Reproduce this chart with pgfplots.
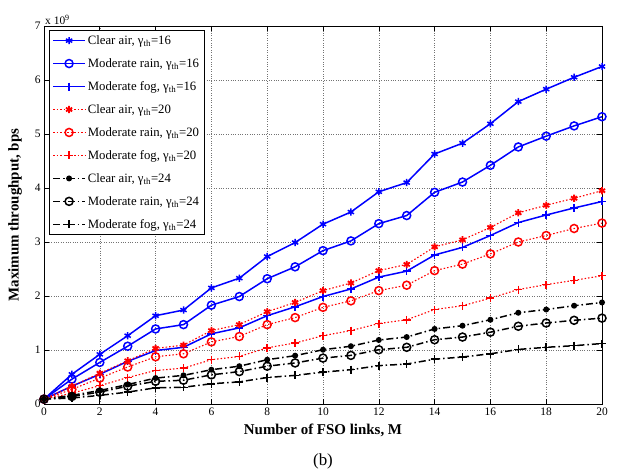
\documentclass[border=0pt]{standalone}
\usepackage{fontspec}
\setmainfont{Liberation Serif}
\usepackage{pgfplots}
\usepackage{pgfplotstable}
\pgfplotsset{compat=1.18}

% throughput in units of 1e9 bps
\pgfplotstableread{
M  bc    br    bf    rc    rr    rf    kc    kr    kf
0  0.09  0.09  0.09  0.09  0.09  0.09  0.09  0.09  0.09
1  0.55  0.46  0.33  0.33  0.27  0.20  0.16  0.14  0.11
2  0.92  0.77  0.55  0.57  0.48  0.34  0.25  0.22  0.16
3  1.265 1.07  0.79  0.80  0.685 0.49  0.36  0.33  0.22
4  1.635 1.39  0.99  1.03  0.875 0.62  0.48  0.42  0.30
5  1.74  1.47  1.05  1.09  0.93  0.665 0.53  0.44  0.31
6  2.15  1.83  1.30  1.36  1.15  0.82  0.635 0.54  0.375
7  2.33  1.99  1.41  1.47  1.25  0.88  0.70  0.60  0.41
8  2.73  2.32  1.635 1.71  1.47  1.04  0.82  0.70  0.49
9  2.99  2.54  1.80  1.88  1.60  1.13  0.895 0.76  0.53
10 3.33  2.84  1.99  2.10  1.79  1.265 1.005 0.85  0.59
11 3.555 3.02  2.13  2.24  1.91  1.36  1.07  0.90  0.635
12 3.93  3.34  2.35  2.47  2.10  1.49  1.185 1.005 0.71
13 4.10  3.49  2.46  2.585 2.20  1.56  1.24  1.05  0.74
14 4.63  3.92  2.76  2.91  2.47  1.75  1.39  1.19  0.83
15 4.83  4.11  2.90  3.04  2.59  1.82  1.45  1.24  0.87
16 5.19  4.42  3.12  3.27  2.78  1.96  1.56  1.33  0.93
17 5.60  4.76  3.36  3.54  3.00  2.12  1.69  1.44  1.01
18 5.83  4.96  3.50  3.68  3.12  2.21  1.75  1.50  1.05
19 6.05  5.15  3.63  3.81  3.25  2.29  1.82  1.55  1.08
20 6.25  5.32  3.75  3.95  3.35  2.375 1.88  1.59  1.12
}\thr

\begin{document}
\begin{tikzpicture}
\useasboundingbox (-44bp,-71bp) rectangle (574bp,404bp);
\begin{axis}[
    scale only axis,
    width=558bp, height=378bp,
    xmin=0, xmax=20, ymin=0, ymax=7,
    xtick={0,2,...,20}, ytick={0,1,...,7},
    tick align=inside,
    major tick length=5bp,
    grid=major,
    major grid style={dotted, black!55, line width=0.5bp},
    axis line style={line width=0.8bp},
    tick style={line width=0.6bp, black},
    /pgf/number format/assume math mode=true,
    tick label style={font=\fontsize{11.5}{12}\selectfont},
    xlabel={Number of FSO links, M},
    ylabel={Maximum throughput, bps},
    every axis x label/.style={at={(axis description cs:0.5,-0.069)}, anchor=center,
        font=\fontsize{15}{16}\selectfont\bfseries},
    every axis y label/.style={at={(axis description cs:-0.052,0.5)}, rotate=90, anchor=center,
        font=\fontsize{15}{16}\selectfont\bfseries},
    legend cell align=left,
    legend style={at={(rel axis cs:0.009,0.989)}, anchor=north west,
        font=\fontsize{12.8}{14}\selectfont, draw=black, line width=0.6bp,
        inner xsep=3bp, inner ysep=3bp, row sep=8.6bp},
    legend image code/.code={\draw[mark repeat=2,mark phase=2] plot coordinates {(0bp,0bp)(16bp,0bp)(32bp,0bp)};},
    every axis plot/.append style={line width=1.5bp},
    clip=false,
  ]
\addplot[blue, mark=asterisk, mark size=3.6bp, mark options={solid}] table[x=M,y=bc]{\thr};
\addplot[blue, mark=o, mark size=4bp, mark options={solid}] table[x=M,y=br]{\thr};
\addplot[blue, mark=+, mark size=4bp, mark options={solid}] table[x=M,y=bf]{\thr};
\addplot[red, dotted, line width=1.1bp, mark=asterisk, mark size=3.6bp, mark options={solid, line width=1.8bp}] table[x=M,y=rc]{\thr};
\addplot[red, dotted, line width=1.1bp, mark=o, mark size=4bp, mark options={solid, line width=1.5bp}] table[x=M,y=rr]{\thr};
\addplot[red, dotted, line width=1.1bp, mark=+, mark size=4bp, mark options={solid, line width=1.5bp}] table[x=M,y=rf]{\thr};
\addplot[black, dash pattern=on 7bp off 3bp on 1.5bp off 3bp, mark=*, mark size=2.2bp, mark options={solid}] table[x=M,y=kc]{\thr};
\addplot[black, dash pattern=on 7bp off 3bp on 1.5bp off 3bp, mark=o, mark size=4bp, mark options={solid}] table[x=M,y=kr]{\thr};
\addplot[black, dash pattern=on 7bp off 3bp on 1.5bp off 3bp, mark=+, mark size=4bp, mark options={solid}] table[x=M,y=kf]{\thr};
\legend{{Clear air, γ\textsubscript{th}=16},
        {Moderate rain, γ\textsubscript{th}=16},
        {Moderate fog, γ\textsubscript{th}=16},
        {Clear air, γ\textsubscript{th}=20},
        {Moderate rain, γ\textsubscript{th}=20},
        {Moderate fog, γ\textsubscript{th}=20},
        {Clear air, γ\textsubscript{th}=24},
        {Moderate rain, γ\textsubscript{th}=24},
        {Moderate fog, γ\textsubscript{th}=24}}
\node[anchor=south west, font=\fontsize{11.5}{12}\selectfont, inner sep=1bp] at (rel axis cs:0,1) {x 10\textsuperscript{9}};
\node[anchor=center, font=\fontsize{17}{19}\selectfont] at (axis description cs:0.5,-0.153) {(b)};
\end{axis}
\end{tikzpicture}
\end{document}
